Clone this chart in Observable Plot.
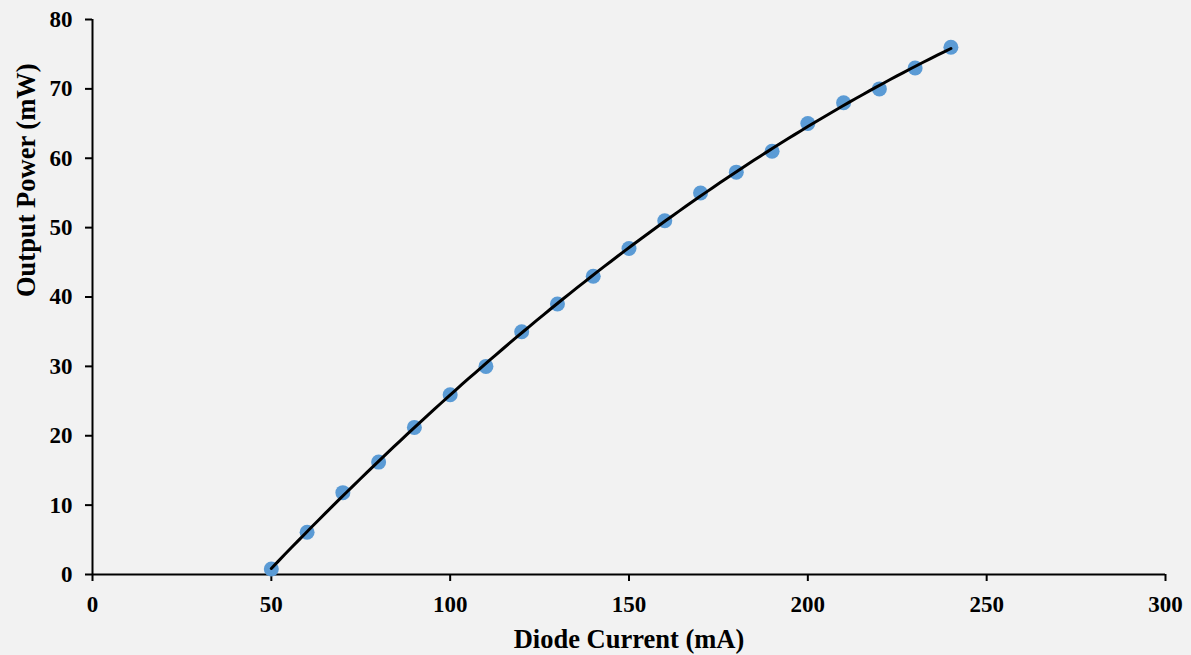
<!DOCTYPE html>
<html>
<head>
<meta charset="utf-8">
<script src="https://cdn.jsdelivr.net/npm/d3@7"></script>
<script src="https://cdn.jsdelivr.net/npm/@observablehq/plot@0.6"></script>
<style>
  html, body { margin: 0; padding: 0; background: #f2f2f2; }
  #chart svg { display: block; }
</style>
</head>
<body>
<div id="chart"></div>
<script>
const current = [50, 60, 70, 80, 90, 100, 110, 120, 130, 140, 150, 160, 170, 180, 190, 200, 210, 220, 230, 240];
const power   = [0.8, 6.1, 11.8, 16.2, 21.2, 25.9, 30, 35, 39, 43, 47, 51, 55, 58, 61, 65, 68, 70, 73, 76];
const xTicks = [0, 50, 100, 150, 200, 250, 300];
const yTicks = [0, 10, 20, 30, 40, 50, 60, 70, 80];
const xTitle = "Diode Current (mA)";
const yTitle = "Output Power (mW)";

const data = current.map((c, i) => ({current: c, power: power[i]}));

// Polynomial (order 2) least-squares trendline derived from the data
function quadFit(xs, ys) {
  const n = xs.length;
  let s = [0, 0, 0, 0, 0], t = [0, 0, 0];
  for (let i = 0; i < n; i++) {
    const x = xs[i], y = ys[i];
    for (let k = 0; k < 5; k++) s[k] += Math.pow(x, k);
    for (let k = 0; k < 3; k++) t[k] += y * Math.pow(x, k);
  }
  const A = [[s[0], s[1], s[2], t[0]], [s[1], s[2], s[3], t[1]], [s[2], s[3], s[4], t[2]]];
  for (let i = 0; i < 3; i++) {
    let p = i;
    for (let r = i + 1; r < 3; r++) if (Math.abs(A[r][i]) > Math.abs(A[p][i])) p = r;
    [A[i], A[p]] = [A[p], A[i]];
    for (let r = 0; r < 3; r++) {
      if (r === i) continue;
      const f = A[r][i] / A[i][i];
      for (let c = i; c < 4; c++) A[r][c] -= f * A[i][c];
    }
  }
  return [A[0][3] / A[0][0], A[1][3] / A[1][1], A[2][3] / A[2][2]];
}
const [c0, c1, c2] = quadFit(current, power);
const xMin = d3.min(current), xMax = d3.max(current);
const trend = d3.range(0, 101).map(i => {
  const x = xMin + (xMax - xMin) * i / 100;
  return {current: x, power: c0 + c1 * x + c2 * x * x};
});

const chart = Plot.plot({
  width: 1191,
  height: 655,
  marginLeft: 92,
  marginRight: 26,
  marginTop: 19,
  marginBottom: 81,
  style: {
    background: "#f2f2f2",
    fontFamily: "'Liberation Serif', 'Times New Roman', serif",
    fontWeight: "bold",
    fontSize: "23px",
    color: "#000"
  },
  x: {domain: [0, 300]},
  y: {domain: [0, 80]},
  marks: [
    Plot.axisX({ticks: xTicks, tickSize: 7, tickPadding: 14, label: null, fontSize: 23, fontWeight: "bold", strokeWidth: 2}),
    Plot.axisY({ticks: yTicks, tickSize: 7, tickPadding: 13, label: null, fontSize: 23, fontWeight: "bold", strokeWidth: 2}),
    Plot.ruleY([0], {stroke: "#000", strokeWidth: 2}),
    Plot.ruleX([0], {stroke: "#000", strokeWidth: 2}),
    Plot.dot(data, {x: "current", y: "power", r: 7.5, fill: "#5b9bd5", stroke: "none"}),
    Plot.line(trend, {x: "current", y: "power", stroke: "#000", strokeWidth: 3}),
    Plot.text([xTitle], {frameAnchor: "bottom", dy: 65, text: d => d, fontSize: 26.5, fontWeight: "bold", lineAnchor: "middle"}),
    Plot.text([yTitle], {frameAnchor: "left", dx: -66, rotate: -90, text: d => d, fontSize: 26.5, fontWeight: "bold", lineAnchor: "middle"})
  ]
});
document.getElementById("chart").appendChild(chart);
</script>
</body>
</html>
